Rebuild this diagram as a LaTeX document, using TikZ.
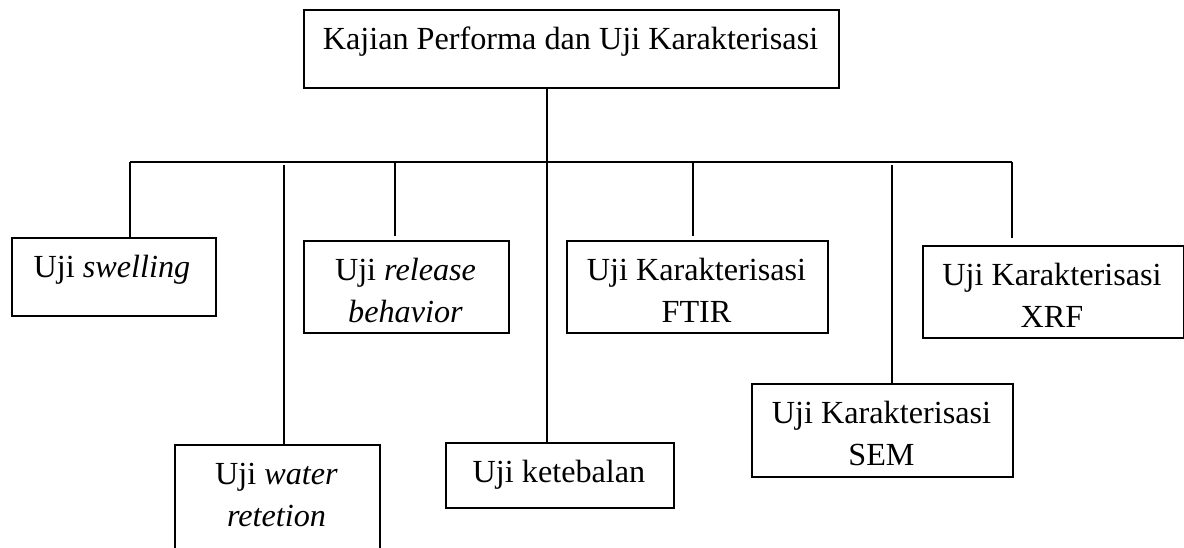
\documentclass[tikz,border=0pt]{standalone}
\usepackage{fontspec}
\setmainfont{Liberation Serif}
\begin{document}
\begin{tikzpicture}[x=1pt,y=-1pt,
  box/.style={draw, line width=1.8pt, inner sep=0pt, anchor=north west},
  lbl/.style={anchor=base, align=center, inner sep=0pt, font=\fontsize{32.2}{42}\selectfont},
  conn/.style={line width=1.8pt}]
\clip (0,0) rectangle (1184,547);
% boxes
\node[box, minimum width=535pt, minimum height=78pt] (top) at (303,9) {};
\node[box, minimum width=204pt, minimum height=78pt] (swell) at (11,237) {};
\node[box, minimum width=205pt, minimum height=130pt] (water) at (174,444) {};
\node[box, minimum width=205pt, minimum height=92pt] (rel) at (303,240) {};
\node[box, minimum width=228pt, minimum height=65pt] (ket) at (445,442) {};
\node[box, minimum width=261pt, minimum height=92pt] (ftir) at (566,240) {};
\node[box, minimum width=261pt, minimum height=93pt] (sem) at (751,383) {};
\node[box, minimum width=261pt, minimum height=92pt] (xrf) at (922,245) {};
% labels (anchor at the baseline of the last line)
\node[lbl] (topT) at (570.5,49) {Kajian Performa dan Uji Karakterisasi};
\node[lbl] (swellT) at (112,277) {Uji \textit{swelling}};
\node[lbl] (waterT) at (276.5,526) {Uji \textit{water}\\\textit{retetion}};
\node[lbl] (relT) at (405.5,322) {Uji \textit{release}\\\textit{behavior}};
\node[lbl] (ketT) at (559,482) {Uji ketebalan};
\node[lbl] (ftirT) at (696.5,322) {Uji Karakterisasi\\FTIR};
\node[lbl] (semT) at (881.5,465) {Uji Karakterisasi\\SEM};
\node[lbl] (xrfT) at (1052,327) {Uji Karakterisasi\\XRF};
% connectors
\coordinate (J) at (547,162);
\coordinate (bL) at (130,162);
\coordinate (bR) at (1012,162);
\coordinate (wS) at (284,165);
\coordinate (rS) at (395,162);
\coordinate (rE) at (395,236);
\coordinate (fS) at (693,162);
\coordinate (fE) at (693,236);
\coordinate (sS) at (892,165);
\coordinate (xE) at (1012,238);
\draw[conn] (bL) -- (bR);
\draw[conn] (top.south -| J) -- (J |- ket.north);
\draw[conn] (bL) -- (bL |- swell.north);
\draw[conn] (wS) -- (wS |- water.north);
\draw[conn] (rS) -- (rE);
\draw[conn] (fS) -- (fE);
\draw[conn] (sS) -- (sS |- sem.north);
\draw[conn] (bR) -- (xE);
\end{tikzpicture}
\end{document}
